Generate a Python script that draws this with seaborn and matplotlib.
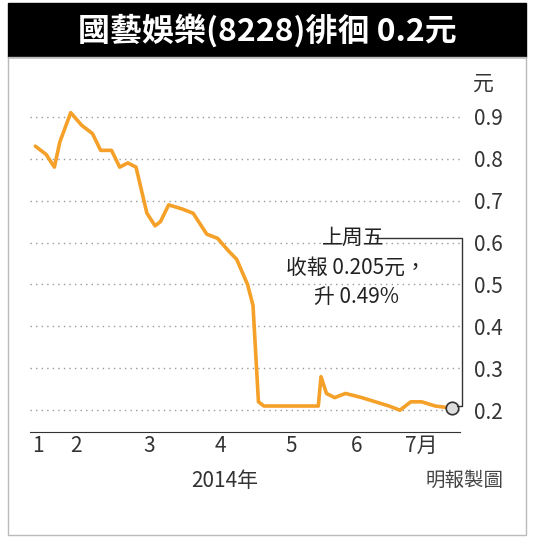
import matplotlib
matplotlib.use("Agg")
import matplotlib.pyplot as plt
import seaborn as sns
import pandas as pd

sns.set_style("white")
plt.rcParams['font.family'] = ['Noto Sans CJK TC', 'DejaVu Sans']

# --- data (x = trading-day index, y = price in HK$) ---
day = [0, 4, 7, 9, 13, 17, 21, 24, 28, 31, 34, 37, 41, 44, 46, 49, 54, 58, 63, 67, 71,
       74, 78, 80, 82, 84, 94, 104, 105, 107, 110, 114, 120, 125, 130, 134, 138, 142,
       147, 153]
price = [0.83, 0.81, 0.78, 0.84, 0.91, 0.88, 0.86, 0.82, 0.82, 0.78, 0.79, 0.78, 0.67,
         0.64, 0.65, 0.69, 0.68, 0.67, 0.62, 0.61, 0.58, 0.56, 0.50, 0.45, 0.22, 0.21,
         0.21, 0.21, 0.28, 0.24, 0.23, 0.24, 0.23, 0.22, 0.21, 0.20, 0.22, 0.22, 0.21,
         0.205]
month_labels = ["1", "2", "3", "4", "5", "6", "7月"]
month_pos = [1, 15, 42, 68, 94, 118, 142]
month_ticks = [7, 28, 55, 81, 106, 130]
yticks = [0.2, 0.3, 0.4, 0.5, 0.6, 0.7, 0.8, 0.9]

df = pd.DataFrame({"day": day, "price": price})

fig = plt.figure(figsize=(5.34, 5.40), dpi=100)
# title bar
fig.patches.append(plt.Rectangle((0.015, 0.895), 0.97, 0.1, transform=fig.transFigure,
                                 color="black", zorder=0))
fig.text(0.5, 0.943, "國藝娛樂(8228)徘徊 0.2元", color="white", fontsize=23,
         fontweight="bold", ha="center", va="center")

ax = fig.add_axes([0.056, 0.2, 0.805, 0.624])
sns.lineplot(data=df, x="day", y="price", ax=ax, color="#f5a028", linewidth=2.6)
ax.plot(day[-1], price[-1], "o", ms=9, mfc="#dddddd", mec="#333333", mew=1.2)
ax.set_xlim(-2, 156)
ax.set_ylim(0.148, 0.952)
ax.set_yticks(yticks)
ax.yaxis.tick_right()
ax.set_yticklabels([f"{v:.1f}" for v in yticks], fontsize=15, color="#333333")
ax.tick_params(axis="y", length=0, pad=10)
for v in yticks:
    ax.axhline(v, color="#999999", ls=(0, (1, 3)), lw=1, zorder=0)
ax.set_xticks(month_ticks)
ax.set_xticklabels([])
ax.tick_params(axis="x", direction="in", length=8, color="#333333")
for p, l in zip(month_pos, month_labels):
    ax.text(p, -0.01, l, transform=ax.get_xaxis_transform(), ha="center", va="top",
            fontsize=15, color="#333333")
for s in ["top", "right", "left"]:
    ax.spines[s].set_visible(False)
ax.spines["bottom"].set_color("#333333")
ax.set_xlabel("")
ax.set_ylabel("")
ax.text(1.03, 1.0, "元", transform=ax.transAxes, fontsize=15, color="#333333", va="bottom")

# annotation
ax.plot([125, 157, 157, day[-1] + 2], [0.61, 0.61, 0.21, 0.21], color="#333333", lw=1,
        clip_on=False)
ax.text(117, 0.61, "上周五", fontsize=15, ha="center", va="center", color="#222222")
ax.text(118, 0.505, "收報 0.205元，\n升 0.49%", fontsize=15, ha="center", va="center",
        color="#222222", linespacing=1.4)

fig.text(0.42, 0.11, "2014年", fontsize=15, ha="center", va="center", color="#333333")
fig.text(0.87, 0.11, "明報製圖", fontsize=14, ha="center", va="center", color="#444444")
fig.patches.append(plt.Rectangle((0.015, 0.01), 0.97, 0.885, transform=fig.transFigure,
                                 fill=False, ec="#bbbbbb", lw=1))

fig.savefig("out.png", dpi=100)
